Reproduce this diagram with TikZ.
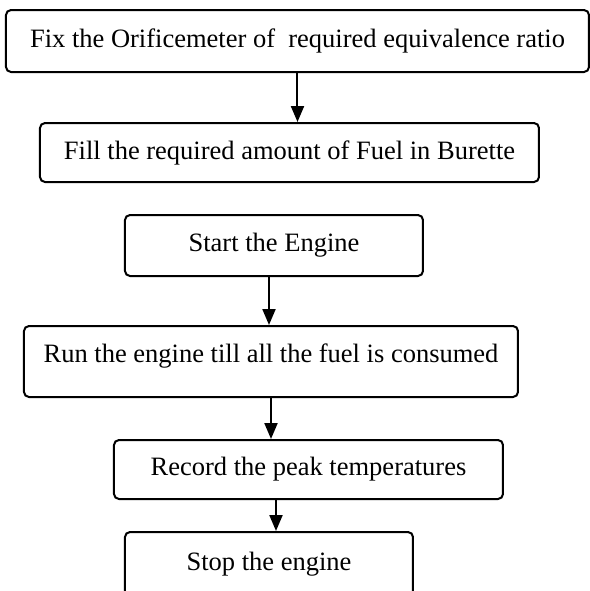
\documentclass[tikz,border=0pt]{standalone}
\usepackage{fontspec}
\setmainfont{Liberation Serif}
\usetikzlibrary{arrows.meta}

\begin{document}
\begin{tikzpicture}[->, >={Triangle[length=8pt, width=6.5pt]}, line width=1pt, x=0.5pt, y=-0.5pt,
    stepbox/.style={draw, rounded corners=2.5pt, inner sep=0pt, font=\fontsize{13.25}{16}\selectfont}]
    \useasboundingbox (0,0) rectangle (590,591);
    % Test procedure
    \node[stepbox, minimum width=291.5pt, minimum height=31pt] (fix) at (297.5, 41) {Fix the Orificemeter of~~required equivalence ratio};
    \node[stepbox, minimum width=249.5pt, minimum height=29.5pt] (fill) at (289.5, 152.5) {Fill the required amount of Fuel in Burette};
    \node[stepbox, minimum width=149pt, minimum height=30.5pt] (start) at (274, 245.5) {Start the Engine};
    \node[stepbox, minimum width=247pt, minimum height=35.5pt, text depth=8.5pt] (run) at (271, 361.5) {Run the engine till all the fuel is consumed};
    \node[stepbox, minimum width=194.5pt, minimum height=29.5pt] (record) at (308.5, 469.5) {Record the peak temperatures};
    \node[stepbox, minimum width=144pt, minimum height=32pt] (stop) at (269, 564) {Stop the engine};
    \draw (fix.south) -- (fix.south |- fill.north);
    \draw ([xshift=-2.5pt]start.south) -- ([xshift=-2.5pt]start.south |- run.north);
    \draw (run.south) -- (run.south |- record.north);
    \draw ([xshift=3.5pt]stop.north |- record.south) -- ([xshift=3.5pt]stop.north);
\end{tikzpicture}
\end{document}
